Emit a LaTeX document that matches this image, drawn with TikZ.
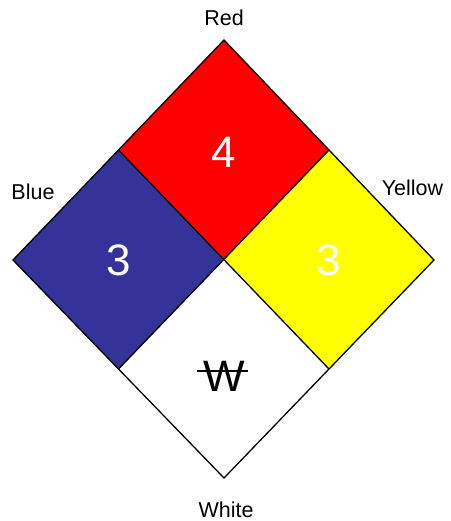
\documentclass[tikz,border=0pt]{standalone}
\usepackage{fontspec}
\setmainfont{Liberation Sans}
\definecolor{nfpablue}{HTML}{333399}
\definecolor{nfpayellow}{HTML}{FFFF00}
\begin{document}
\begin{tikzpicture}[x=1pt,y=-1pt,
  quad/.style={draw=black,line width=1.3pt,line join=miter},
  num/.style={font=\fontsize{44}{44}\selectfont,text=white,inner sep=0pt},
  lbl/.style={font=\fontsize{21.5}{21.5}\selectfont,inner sep=0pt}]
\useasboundingbox (0,0) rectangle (450,521);
\coordinate (T) at (224,40);
\coordinate (L) at (13,260);
\coordinate (R) at (434,260);
\coordinate (B) at (224,478);
\coordinate (C) at (224,259);
\coordinate (TL) at (118.5,150);
\coordinate (TR) at (329,150);
\coordinate (BL) at (118.5,369);
\coordinate (BR) at (329,369);
\fill[red] (T) -- (TR) -- (C) -- (TL) -- cycle;
\fill[nfpablue] (TL) -- (C) -- (BL) -- (L) -- cycle;
\fill[nfpayellow] (TR) -- (R) -- (BR) -- (C) -- cycle;
\fill[white] (C) -- (BR) -- (B) -- (BL) -- cycle;
\draw[quad] (T) -- (R) -- (B) -- (L) -- cycle;
\draw[quad] (TL) -- (BR);
\draw[quad] (TR) -- (BL);
\node[num] (n4) at (224,152) {4};
\node[num] (n3a) at (119,260) {3};
\node[num] (n3b) at (329,260) {3};
\node[num,text=black] (w) at (224,376) {W};
\coordinate (ws) at (197,371);
\coordinate (we) at (248,371);
\draw[line width=1.6pt] (ws) -- (we);
\node[lbl] (lr) at (224,18) {Red};
\node[lbl] (lb) at (33,192) {Blue};
\node[lbl] (ly) at (412.5,188) {Yellow};
\node[lbl] (lw) at (226,510) {White};
\end{tikzpicture}
\end{document}
